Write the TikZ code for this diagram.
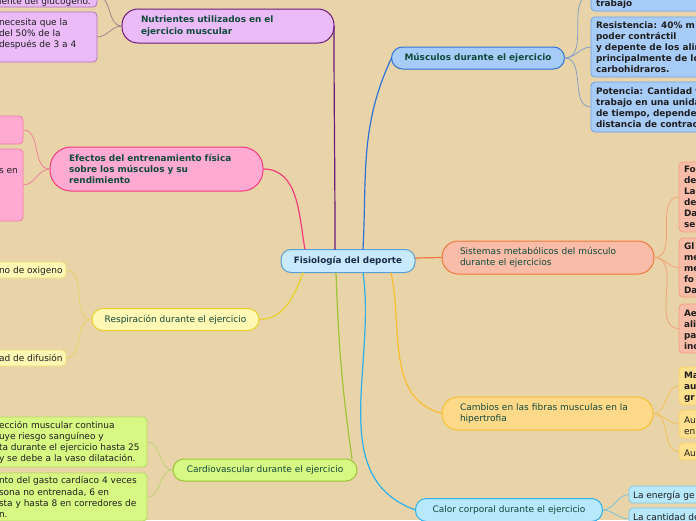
\documentclass[tikz,border=0pt]{standalone}
\usepackage{fontspec}
\setmainfont{DejaVu Sans}
\definecolor{bg}{HTML}{E8D4A8}
\definecolor{cenF}{HTML}{C8EAFC}\definecolor{cenB}{HTML}{5A9ED6}\definecolor{cenT}{HTML}{1A2A48}
\definecolor{brT}{HTML}{0F4A3A}\definecolor{lfT}{HTML}{1E1E1E}
\definecolor{nutF}{HTML}{EBBBF7}\definecolor{nutB}{HTML}{6A1A7A}\definecolor{nutL}{HTML}{B070C0}\definecolor{nutC}{HTML}{9C7A8C}
\definecolor{efeF}{HTML}{FFAAD2}\definecolor{efeB}{HTML}{F23C7C}\definecolor{efeL}{HTML}{F47AA8}\definecolor{efeC}{HTML}{F07898}
\definecolor{resF}{HTML}{FFF7B4}\definecolor{resB}{HTML}{EAD028}\definecolor{resL}{HTML}{F0E070}\definecolor{resC}{HTML}{E8D060}
\definecolor{carF}{HTML}{D8F884}\definecolor{carB}{HTML}{9CC434}\definecolor{carL}{HTML}{B4D864}\definecolor{carC}{HTML}{B8D070}
\definecolor{musF}{HTML}{A8CCF8}\definecolor{musB}{HTML}{2E72D8}\definecolor{musL}{HTML}{6EA2EA}\definecolor{musC}{HTML}{7A9CC8}
\definecolor{sisF}{HTML}{F8BCA8}\definecolor{sisB}{HTML}{F0783E}\definecolor{sisL}{HTML}{F4A080}\definecolor{sisC}{HTML}{F0A070}
\definecolor{camF}{HTML}{FFD98A}\definecolor{camB}{HTML}{F8BE30}\definecolor{camL}{HTML}{F8D068}\definecolor{camLF}{HTML}{FFE08E}\definecolor{camC}{HTML}{F0C050}
\definecolor{calF}{HTML}{B8E8FC}\definecolor{calB}{HTML}{2EB0EA}\definecolor{calL}{HTML}{80C8EA}\definecolor{calC}{HTML}{70C0E0}
\begin{document}
\begin{tikzpicture}[x=1pt,y=-1pt,
  every node/.style={inner sep=0pt, outer sep=0pt, font=\fontsize{9}{11.2}\selectfont},
  nt/.style={font=\fontsize{9}{11.2}\selectfont, text=brT},
  bt/.style={font=\fontsize{8.9}{11.2}\selectfont\bfseries, text=brT},
  branch/.style={draw, line width=1pt},
  leafbox/.style={draw, line width=0.8pt, rounded corners=4pt, anchor=north west},
  ltxt/.style={font=\fontsize{9}{11.2}\selectfont, text=lfT, align=left, anchor=base west},
  lbtxt/.style={font=\fontsize{8.9}{11.1}\selectfont\bfseries, text=lfT, align=left, anchor=base west},
  main/.style={line width=1.2pt},
  sub/.style={line width=0.7pt}]
\useasboundingbox (0,0) rectangle (696,520);
\fill[bg] (0,0) rectangle (696,520);

% central
\node[draw=cenB, fill=cenF, line width=1pt, rounded corners=10pt, minimum width=134pt, minimum height=23pt,
  font=\fontsize{8.8}{11.2}\selectfont\bfseries, text=cenT] (cen) at (348,261) {Fisiología del deporte};

% branches
\node[branch, bt, draw=nutB, fill=nutF, rounded corners=16pt, minimum width=212pt, minimum height=34pt,
  inner xsep=19pt, text width=174pt, align=left] (nut) at (228,26) {Nutrientes utilizados en el\\ejercicio muscular};
\node[branch, bt, draw=efeB, fill=efeF, rounded corners=21pt, minimum width=213pt, minimum height=44pt,
  inner xsep=19pt, text width=175pt, align=left] (efe) at (156.5,169) {Efectos del entrenamiento física\\sobre los músculos y su\\rendimiento};
\node[branch, nt, draw=resB, fill=resF, rounded corners=11pt, minimum width=167pt, minimum height=22pt] (res) at (175.5,319.5) {Respiración durante el ejercicio};
\node[branch, nt, draw=carB, fill=carF, rounded corners=11pt, minimum width=184pt, minimum height=22pt] (car) at (265,470) {Cardiovascular durante el ejercicio};
\node[branch, bt, draw=musB, fill=musF, rounded corners=11pt, minimum width=173pt, minimum height=22pt] (mus) at (478,58) {Músculos durante el ejercicio};
\node[branch, nt, draw=sisB, fill=sisF, rounded corners=16pt, minimum width=212pt, minimum height=33pt,
  inner xsep=18pt, text width=176pt, align=left] (sis) at (548,257.5) {Sistemas metabólicos del músculo\\durante el ejercicios};
\node[branch, nt, draw=camB, fill=camF, rounded corners=16pt, minimum width=211pt, minimum height=33pt,
  inner xsep=18pt, text width=175pt, align=left] (cam) at (547.5,413.5) {Cambios en las fibras musculas en la\\hipertrofia};
\node[branch, nt, draw=calB, fill=calF, rounded corners=11pt, minimum width=187pt, minimum height=23pt] (cal) at (509,510) {Calor corporal durante el ejercicio};

% leaves: Nutrientes
\node[leafbox, draw=nutL, fill=nutF, minimum width=107pt, minimum height=22pt] (n1) at (-10,-15) {};
\node[ltxt] (n1t) at (-1,4.5) {iente del glucógeno.};
\node[leafbox, draw=nutL, fill=nutF, minimum width=107pt, minimum height=50pt] (n2) at (-10,12) {};
\node[ltxt] (n2t) at (-1,47.4) {necesita que la\\del 50\% de la\\después de 3 a 4};
% leaves: Efectos
\node[leafbox, draw=efeL, fill=efeF, minimum width=33pt, minimum height=28pt] (e1) at (-10,116) {};
\node[leafbox, draw=efeL, fill=efeF, minimum width=33pt, minimum height=72pt] (e2) at (-10,149) {};
\node[ltxt] (e2t) at (-1,173) {s en};
% leaves: Respiracion
\node[leafbox, draw=resL, fill=resF, minimum width=76pt, minimum height=16pt] (r1) at (-10,262) {};
\node[ltxt] (r1t) at (-1,273) {no de oxigeno};
\node[leafbox, draw=resL, fill=resF, minimum width=76pt, minimum height=16pt] (r2) at (-10,350) {};
\node[ltxt] (r2t) at (-1,361) {ad de difusión};
% leaves: Cardiovascular
\node[leafbox, draw=carL, fill=carF, minimum width=157pt, minimum height=50pt] (c1) at (-10,417) {};
\node[ltxt] (c1t) at (-1,461.7) {ección muscular continua\\uye riesgo sanguíneo y\\ta durante el ejercicio hasta 25\\y se debe a la vaso dilatación.};
\node[leafbox, draw=carL, fill=carF, minimum width=157pt, minimum height=48pt] (c2) at (-10,473) {};
\node[ltxt] (c2t) at (-1,517.5) {nto del gasto cardíaco 4 veces\\sona no entrenada, 6 en\\sta y hasta 8 en corredores de\\n.};
% leaves: Musculos
\node[leafbox, draw=musL, fill=musF, minimum width=120pt, minimum height=31pt] (m1) at (591,-20) {};
\node[lbtxt] (m1t) at (596,6) {trabajo};
\node[leafbox, draw=musL, fill=musF, minimum width=120pt, minimum height=60pt] (m2) at (591,17) {};
\node[lbtxt] (m2t) at (596,72.7) {Resistencia: 40\% m\\poder contráctil\\y depente de los alim\\principalmente de lo\\carbohidraros.};
\node[leafbox, draw=musL, fill=musF, minimum width=120pt, minimum height=50pt] (m3) at (591,82) {};
\node[lbtxt] (m3t) at (596,127.6) {Potencia: Cantidad t\\trabajo en una unida\\de tiempo, depende\\distancia de contrac};
% leaves: Sistemas
\node[leafbox, draw=sisL, fill=sisF, minimum width=40pt, minimum height=70pt] (s1) at (679,162) {};
\node[lbtxt] (s1t) at (684,227.5) {Fo\\de\\La\\de\\Da\\se};
\node[leafbox, draw=sisL, fill=sisF, minimum width=40pt, minimum height=59pt] (s2) at (679,238) {};
\node[lbtxt] (s2t) at (684,293.4) {Gl\\me\\me\\fo\\Da};
\node[leafbox, draw=sisL, fill=sisF, minimum width=40pt, minimum height=49pt] (s3) at (679,304) {};
\node[lbtxt] (s3t) at (684,349.3) {Ae\\ali\\pa\\inc};
% leaves: Cambios
\node[leafbox, draw=camL, fill=camLF, minimum width=40pt, minimum height=38pt] (k1) at (679,367) {};
\node[lbtxt] (k1t) at (684,400.7) {Ma\\au\\gr};
\node[leafbox, draw=camL, fill=camLF, minimum width=40pt, minimum height=28pt] (k2) at (679,410) {};
\node[ltxt] (k2t) at (684,434.2) {Au\\en};
\node[leafbox, draw=camL, fill=camLF, minimum width=40pt, minimum height=17pt] (k3) at (679,443) {};
\node[ltxt] (k3t) at (684,456) {Au};
% leaves: Calor
\node[leafbox, draw=calL, fill=calF, minimum width=80pt, minimum height=17pt] (l1) at (629,486) {};
\node[ltxt] (l1t) at (633,498) {La energía ge};
\node[leafbox, draw=calL, fill=calF, minimum width=80pt, minimum height=22pt] (l2) at (629,508) {};
\node[ltxt] (l2t) at (633,520) {La cantidad de};

% main connectors
\draw[main, nutB] ([xshift=-13pt]cen.north) to[out=90,in=-90] (nut.east);
\draw[main, efeB] ([xshift=-43pt]cen.north) to[out=100,in=0] (efe.east);
\draw[main, resB] ([xshift=-45pt]cen.south) to[out=-110,in=0] (res.east);
\draw[main, carB] ([xshift=-12pt]cen.south) to[out=-88,in=98] ([xshift=-5pt]car.north east);
\draw[main, musB] ([xshift=15pt]cen.north) to[out=87,in=-115] (mus.west);
\draw[main, sisB] ([yshift=3pt]cen.east) -- (sis.west);
\draw[main, camB] ([xshift=43pt]cen.south) to[out=-78,in=165] (cam.west);
\draw[main, calB] ([xshift=15pt]cen.south) to[out=-82,in=160] (cal.west);

% leaf connectors
\foreach \l in {n1,n2}{\draw[sub, nutC] (nut.west) to[out=180,in=0] (\l.east);}
\foreach \l in {e1,e2}{\draw[sub, efeC] (efe.west) to[out=180,in=0] (\l.east);}
\foreach \l in {r1,r2}{\draw[sub, resC] (res.west) to[out=180,in=0] (\l.east);}
\foreach \l in {c1,c2}{\draw[sub, carC] (car.west) to[out=180,in=0] (\l.east);}
\foreach \l in {m1,m2,m3}{\draw[sub, musC] (mus.east) to[out=0,in=180] (\l.west);}
\foreach \l in {s1,s2,s3}{\draw[sub, sisC] (sis.east) to[out=0,in=180] (\l.west);}
\foreach \l in {k1,k2,k3}{\draw[sub, camC] (cam.east) to[out=0,in=180] (\l.west);}
\foreach \l in {l1,l2}{\draw[sub, calC] (cal.east) to[out=0,in=180] (\l.west);}
\end{tikzpicture}
\end{document}
